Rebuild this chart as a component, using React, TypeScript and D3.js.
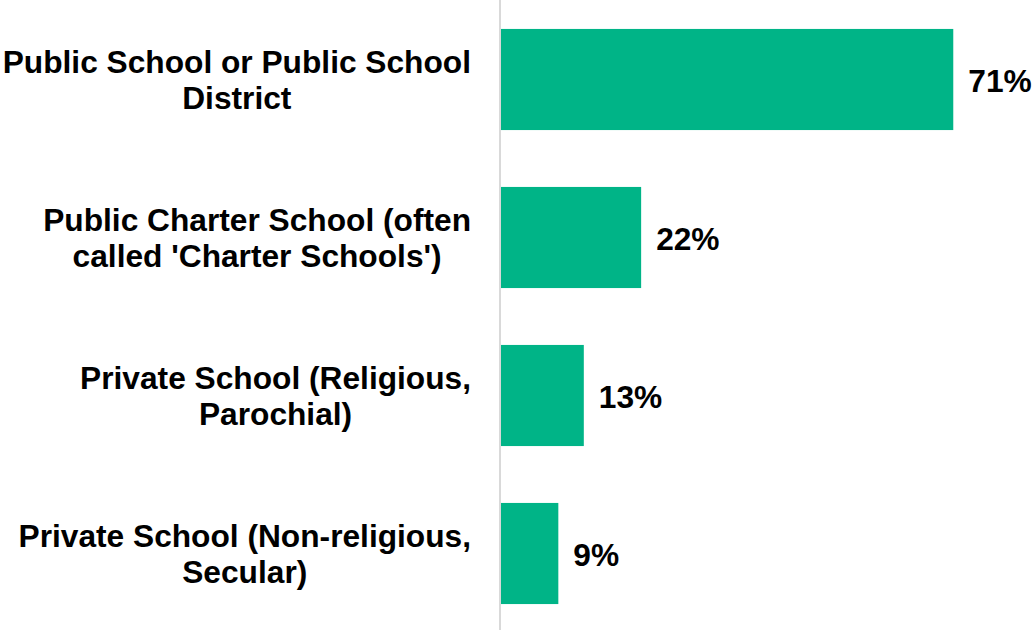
import React, { useEffect, useRef } from "react";
import * as d3 from "d3";

const categories: string[][] = [
  ["Public School or Public School", "District"],
  ["Public Charter School (often", "called 'Charter Schools')"],
  ["Private School (Religious,", "Parochial)"],
  ["Private School (Non-religious,", "Secular)"],
];
const values: number[] = [71, 22, 13, 9];
const valueLabels: string[] = ["71%", "22%", "13%", "9%"];

const W = 1034;
const H = 630;
const FONT = "'Liberation Sans', Arial, sans-serif";
const FS = 31.7;

export default function App() {
  const ref = useRef<SVGSVGElement>(null);
  useEffect(() => {
    const svg = d3.select(ref.current);
    svg.selectAll("*").remove();
    const keys = categories.map((c) => c.join(" "));
    const x = d3.scaleLinear().domain([0, 100]).range([501, 501 + 637]);
    const y = d3
      .scaleBand<string>()
      .domain(keys)
      .range([0.5, 632.5])
      .paddingInner(0.36)
      .paddingOuter(0.18);

    svg
      .append("g")
      .selectAll("rect")
      .data(values)
      .join("rect")
      .attr("x", x(0))
      .attr("y", (_, i) => y(keys[i])!)
      .attr("width", (d) => x(d) - x(0))
      .attr("height", y.bandwidth())
      .attr("fill", "#00B487");

    svg
      .append("line")
      .attr("x1", 500)
      .attr("x2", 500)
      .attr("y1", 0)
      .attr("y2", H)
      .attr("stroke", "#d9d9d9")
      .attr("stroke-width", 2);

    svg
      .append("g")
      .selectAll("text")
      .data(valueLabels)
      .join("text")
      .attr("x", (_, i) => x(values[i]) + 15)
      .attr("y", (_, i) => y(keys[i])! + y.bandwidth() / 2)
      .attr("dy", "0.38em")
      .attr("font-family", FONT)
      .attr("font-weight", "bold")
      .attr("font-size", FS)
      .attr("fill", "#000")
      .text((d) => d);

    const lh = 36;
    const right = 471;
    categories.forEach((lines, i) => {
      const cy = y(keys[i])! + y.bandwidth() / 2;
      const g = svg.append("g");
      const texts = lines.map((ln, j) =>
        g
          .append("text")
          .attr("y", cy + (j - (lines.length - 1) / 2) * lh)
          .attr("dy", "0.35em")
          .attr("text-anchor", "middle")
          .attr("font-family", FONT)
          .attr("font-weight", "bold")
          .attr("font-size", FS)
          .attr("fill", "#000")
          .text(ln)
      );
      const maxW = d3.max(texts, (t) => (t.node() as SVGTextElement).getComputedTextLength()) || 0;
      texts.forEach((t) => t.attr("x", right - maxW / 2));
    });
  }, []);
  return (
    <svg
      ref={ref}
      width={W}
      height={H}
      style={{ position: "absolute", left: 0, top: 0, background: "#fff" }}
    />
  );
}
